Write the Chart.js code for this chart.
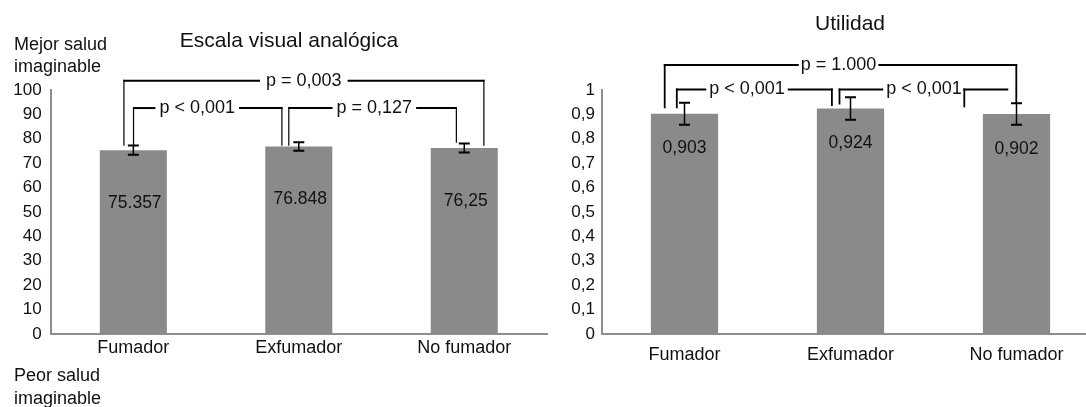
<!DOCTYPE html>
<html>
<head>
<meta charset="utf-8">
<script src="https://cdn.jsdelivr.net/npm/chart.js@4.4.1/dist/chart.umd.min.js"></script>
<style>
  html, body { margin:0; padding:0; background:#fff; width:1086px; height:407px; overflow:hidden; }
  #wl { position:absolute; left:0; top:0; width:560px; height:407px; }
  #wr { position:absolute; left:560px; top:0; width:560px; height:407px; }
</style>
</head>
<body>
<div id="wl"><canvas id="cl" width="560" height="407"></canvas></div>
<div id="wr"><canvas id="cr" width="560" height="407"></canvas></div>
<script>
// ---------- DATA ----------
const categories = ['Fumador', 'Exfumador', 'No fumador'];

const evaTitle = 'Escala visual analógica';
const evaValues = [75.357, 76.848, 76.25];
const evaValueLabels = ['75.357', '76.848', '76,25'];
const evaErrors = [1.85, 1.7, 1.85];
const evaTickLabels = ['0', '10', '20', '30', '40', '50', '60', '70', '80', '90', '100'];
const evaPLabels = ['p = 0,003', 'p < 0,001', 'p = 0,127'];
const evaTopNote = ['Mejor salud', 'imaginable'];
const evaBottomNote = ['Peor salud', 'imaginable'];

const utilTitle = 'Utilidad';
const utilValues = [0.903, 0.924, 0.902];
const utilValueLabels = ['0,903', '0,924', '0,902'];
const utilErrors = [0.045, 0.046, 0.044];
const utilTickLabels = ['0', '0,1', '0,2', '0,3', '0,4', '0,5', '0,6', '0,7', '0,8', '0,9', '1'];
const utilPLabels = ['p = 1.000', 'p < 0,001', 'p < 0,001'];

// ---------- LAYOUT / STYLE ----------
const FONT = "'Liberation Sans', Arial, Helvetica, sans-serif";
const BAR = '#8a8a8a';
const AXIS = '#8e8e8e';
const INK = '#111111';
Chart.defaults.font.family = FONT;
Chart.defaults.color = INK;

// bracket geometry: legs given as category index + pixel offset, heights in axis units
const evaBrackets = [
  { label: 0, l: [0, -9.4, 77.2], r: [2, 19.6, 77.2], top: 103.8, at: [1, 5], gap: 6, vw: 1.2 },
  { label: 1, l: [0, 0.2, 77.2], r: [1, -16.9, 77.2], top: 92.6, at: [0.5, -18.8], gap: 4, vw: 1.2 },
  { label: 2, l: [1, -10, 77.2], r: [2, -7.9, 78.4], top: 92.6, at: [1.5, -7.2], gap: 4, vw: 1.2 }
];
const utilBrackets = [
  { label: 0, l: [0, -19.8, 0.925], r: [2, -0.2, 0.947], top: 1.1025, at: [1, -11.9], gap: 2, vw: 1.8 },
  { label: 1, l: [0, -7.7, 0.925], r: [1, -18.6, 0.934], top: 1.002, at: [0.5, -20.5], gap: 3, vw: 1.8 },
  { label: 2, l: [1, -11, 0.9406], r: null, top: 1.002, at: [1.5, -9.5], gap: 3, vw: 1.8,
    stub: { from: [2, -52.2, 0.929], to: [2, -8.2] } }
];

function overlay(opts) {
  return {
    id: 'overlay_' + opts.name,
    afterDatasetsDraw(chart) {
      const ctx = chart.ctx;
      const xs = chart.scales.x, ys = chart.scales.y;
      const X = (i, dx) => xs.getPixelForValue(i) + (dx || 0);
      const Y = v => ys.getPixelForValue(v);
      ctx.save();
      // error bars
      ctx.strokeStyle = '#000';
      opts.values.forEach((v, i) => {
        const x = X(i);
        const yt = Y(v + opts.errors[i]);
        const yb = Y(v - opts.errors[i]);
        ctx.lineWidth = 1.5;
        ctx.beginPath(); ctx.moveTo(x, yt); ctx.lineTo(x, yb); ctx.stroke();
        ctx.lineWidth = 2;
        ctx.beginPath();
        ctx.moveTo(x - 5.5, yt); ctx.lineTo(x + 5.5, yt);
        ctx.moveTo(x - 5.5, yb); ctx.lineTo(x + 5.5, yb);
        ctx.stroke();
      });
      // value labels inside bars
      ctx.fillStyle = INK;
      ctx.font = '17.5px ' + FONT;
      ctx.textAlign = 'center';
      ctx.textBaseline = 'middle';
      opts.values.forEach((v, i) => {
        ctx.fillText(opts.valueLabels[i], X(i) + opts.labelShift, Y(v) + opts.labelDrop);
      });
      // significance brackets
      ctx.font = '18px ' + FONT;
      opts.brackets.forEach(b => {
        const text = opts.pLabels[b.label];
        const w = ctx.measureText(text).width;
        const yTop = Y(b.top);
        const xc = X(b.at[0], b.at[1]);
        const xL = X(b.l[0], b.l[1]);
        ctx.strokeStyle = '#000';
        ctx.lineWidth = b.vw;
        ctx.beginPath(); ctx.moveTo(xL, Y(b.l[2])); ctx.lineTo(xL, yTop - 1); ctx.stroke();
        ctx.lineWidth = 2;
        ctx.beginPath(); ctx.moveTo(xL - b.vw / 2, yTop); ctx.lineTo(xc - w / 2 - b.gap, yTop); ctx.stroke();
        if (b.r) {
          const xR = X(b.r[0], b.r[1]);
          ctx.beginPath(); ctx.moveTo(xc + w / 2 + b.gap, yTop); ctx.lineTo(xR + b.vw / 2, yTop); ctx.stroke();
          ctx.lineWidth = b.vw;
          ctx.beginPath(); ctx.moveTo(xR, yTop - 1); ctx.lineTo(xR, Y(b.r[2])); ctx.stroke();
        }
        if (b.stub) {
          const x1 = X(b.stub.from[0], b.stub.from[1]);
          const x2 = X(b.stub.to[0], b.stub.to[1]);
          ctx.lineWidth = b.vw;
          ctx.beginPath(); ctx.moveTo(x1, Y(b.stub.from[2])); ctx.lineTo(x1, yTop - 1); ctx.stroke();
          ctx.lineWidth = 2;
          ctx.beginPath(); ctx.moveTo(x1 - b.vw / 2, yTop); ctx.lineTo(x2, yTop); ctx.stroke();
        }
        ctx.fillStyle = INK;
        ctx.fillText(text, xc, yTop);
      });
      // title
      ctx.font = '21px ' + FONT;
      ctx.fillText(opts.title, opts.titleX, opts.titleY);
      // side notes
      if (opts.notes) {
        ctx.font = '18px ' + FONT;
        ctx.textAlign = 'left';
        opts.notes.forEach(n => {
          n.lines.forEach((t, k) => ctx.fillText(t, n.x, n.y + k * 22.5));
        });
      }
      ctx.restore();
    }
  };
}

function makeChart(id, cfg) {
  return new Chart(document.getElementById(id), {
    type: 'bar',
    data: {
      labels: categories,
      datasets: [{
        data: cfg.values,
        backgroundColor: BAR,
        borderWidth: 0,
        barPercentage: 0.405,
        categoryPercentage: 1
      }]
    },
    options: {
      responsive: false,
      animation: false,
      events: [],
      layout: { padding: { left: 0, right: cfg.padRight, top: 90, bottom: 0 } },
      plugins: { legend: { display: false }, tooltip: { enabled: false }, title: { display: false } },
      scales: {
        x: {
          grid: { display: false, drawTicks: false },
          border: { display: true, color: AXIS, width: 2 },
          ticks: { font: { size: 18 }, color: INK, padding: cfg.xPad, maxRotation: 0, autoSkip: false },
          afterFit: s => { s.height = 407 - 334; }
        },
        y: {
          min: 0, max: cfg.max,
          grid: { display: false, drawTicks: false },
          border: { display: true, color: AXIS, width: 2 },
          ticks: {
            stepSize: cfg.max / 10,
            font: { size: 17 }, color: INK, padding: cfg.yPad,
            callback: (v, i) => cfg.tickLabels[i]
          },
          afterFit: s => { s.width = cfg.yWidth; }
        }
      }
    },
    plugins: [overlay(cfg)]
  });
}

makeChart('cl', {
  name: 'eva', values: evaValues, errors: evaErrors, valueLabels: evaValueLabels,
  tickLabels: evaTickLabels, pLabels: evaPLabels, brackets: evaBrackets,
  max: 100, yWidth: 50.6, yPad: 9, xPad: 3.5, padRight: 13, labelDrop: 53, labelShift: 1.5,
  title: evaTitle, titleX: 289, titleY: 41,
  notes: [ { lines: evaTopNote, x: 14, y: 45 }, { lines: evaBottomNote, x: 14, y: 376.5 } ]
});

makeChart('cr', {
  name: 'util', values: utilValues, errors: utilErrors, valueLabels: utilValueLabels,
  tickLabels: utilTickLabels, pLabels: utilPLabels, brackets: utilBrackets,
  max: 1, yWidth: 41.5, yPad: 6.5, xPad: 10.2, padRight: 20.5, labelDrop: 35, labelShift: 0,
  title: utilTitle, titleX: 290, titleY: 24
});
</script>
</body>
</html>
